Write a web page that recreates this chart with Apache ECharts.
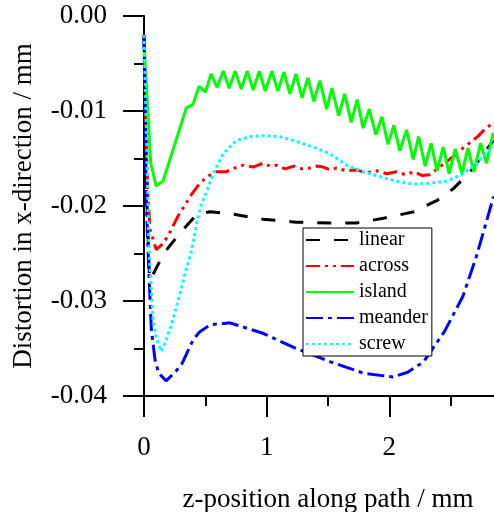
<!DOCTYPE html>
<html><head><meta charset="utf-8">
<script src="https://cdn.jsdelivr.net/npm/echarts@6/dist/echarts.min.js"></script>
<style>html,body{margin:0;padding:0;background:#fff;overflow:hidden;}#c{width:494px;height:512px;overflow:hidden;}</style>
</head><body><div id="c"></div>
<script>
const seriesNames = ['linear', 'across', 'island', 'meander', 'screw'];
const xTicks = [0, 1, 2];
const yTicks = [0, -0.01, -0.02, -0.03, -0.04];

const linearX = [0, 0.01, 0.025, 0.045, 0.07, 0.16, 0.29, 0.43, 0.54, 0.70, 0.97, 1.24, 1.52, 1.73, 1.95, 2.20, 2.39, 2.52, 2.66, 2.79, 2.85];
const linearY = [-0.002, -0.010, -0.020, -0.0278, -0.0273, -0.0250, -0.0229, -0.0209, -0.0206, -0.0208, -0.0214, -0.0217, -0.0218, -0.0218, -0.0213, -0.0206, -0.0194, -0.0182, -0.0164, -0.0141, -0.0131];

const acrossX = [0, 0.01, 0.03, 0.05, 0.1, 0.16, 0.21, 0.28, 0.33, 0.375, 0.456, 0.53, 0.59, 0.67, 0.74, 0.81, 0.89, 0.97, 1.03, 1.08, 1.15, 1.22, 1.29, 1.35, 1.41, 1.46, 1.52, 1.57, 1.65, 1.73, 1.81, 1.90, 1.98, 2.06, 2.13, 2.20, 2.27, 2.33, 2.40, 2.47, 2.54, 2.60, 2.66, 2.72, 2.78, 2.85];
const acrossY = [-0.002, -0.008, -0.0185, -0.0225, -0.0246, -0.0239, -0.0228, -0.0210, -0.0200, -0.0190, -0.0176, -0.0168, -0.0164, -0.0164, -0.0160, -0.0157, -0.0159, -0.0155, -0.0158, -0.0157, -0.0161, -0.0158, -0.0161, -0.0160, -0.0158, -0.0159, -0.0162, -0.0160, -0.0163, -0.0162, -0.0165, -0.0163, -0.0166, -0.0164, -0.0167, -0.0164, -0.0168, -0.0167, -0.0160, -0.0153, -0.0146, -0.0139, -0.0133, -0.0127, -0.0119, -0.0112];

const islandX = [0, 0.005, 0.055, 0.10, 0.155, 0.345, 0.40, 0.45, 0.503, 0.546, 0.597, 0.646, 0.695, 0.744, 0.793, 0.842, 0.891, 0.940, 0.989, 1.043, 1.092, 1.141, 1.190, 1.239, 1.288, 1.337, 1.385, 1.434, 1.489, 1.532, 1.587, 1.636, 1.690, 1.738, 1.787, 1.836, 1.891, 1.940, 1.989, 2.037, 2.086, 2.141, 2.195, 2.239, 2.293, 2.341, 2.390, 2.439, 2.488, 2.537, 2.592, 2.641, 2.689, 2.744, 2.793, 2.847];
const islandY = [-0.0030, -0.0040, -0.0155, -0.0179, -0.0174, -0.0097, -0.0093, -0.0074, -0.0080, -0.0061, -0.0075, -0.0058, -0.0076, -0.0058, -0.0077, -0.0058, -0.0078, -0.0058, -0.0079, -0.0058, -0.0079, -0.0059, -0.0082, -0.0061, -0.0086, -0.0065, -0.0090, -0.0068, -0.0098, -0.0076, -0.0105, -0.0082, -0.0112, -0.0088, -0.0118, -0.0098, -0.0125, -0.0106, -0.0135, -0.0115, -0.0142, -0.0120, -0.0151, -0.0127, -0.0158, -0.0134, -0.0163, -0.0138, -0.0166, -0.0140, -0.0166, -0.0139, -0.0164, -0.0134, -0.0155, -0.0123];

const meanderX = [0, 0.01, 0.02, 0.04, 0.06, 0.09, 0.12, 0.18, 0.26, 0.31, 0.40, 0.45, 0.54, 0.70, 0.97, 1.24, 1.52, 1.79, 2.03, 2.15, 2.28, 2.45, 2.60, 2.71, 2.85];
const meanderY = [-0.002, -0.010, -0.020, -0.027, -0.033, -0.0362, -0.0376, -0.0384, -0.0374, -0.0366, -0.0341, -0.0333, -0.0325, -0.0323, -0.0334, -0.0350, -0.0364, -0.0376, -0.0380, -0.0375, -0.0364, -0.0332, -0.0295, -0.0253, -0.0190];

const screwX = [0, 0.02, 0.04, 0.06, 0.075, 0.10, 0.14, 0.17, 0.22, 0.28, 0.33, 0.39, 0.43, 0.47, 0.49, 0.565, 0.646, 0.755, 0.864, 0.972, 1.108, 1.244, 1.38, 1.516, 1.652, 1.787, 1.923, 2.059, 2.195, 2.331, 2.467, 2.602, 2.711, 2.847];
const screwY = [-0.002, -0.012, -0.024, -0.029, -0.032, -0.0338, -0.0353, -0.0345, -0.0327, -0.0299, -0.0274, -0.0246, -0.0218, -0.0197, -0.0192, -0.0166, -0.0145, -0.0131, -0.0127, -0.0126, -0.0127, -0.0132, -0.0138, -0.0145, -0.0157, -0.0164, -0.0169, -0.0174, -0.0177, -0.0176, -0.0174, -0.0166, -0.0155, -0.0138];

const zip = (xs, ys) => xs.map((x, i) => [x, ys[i]]);
const FONT = "'Liberation Serif', 'Times New Roman', serif";

const styles = [
  {color: '#000000', type: [14, 14]},
  {color: '#ff0000', type: [14, 5, 3, 5, 3, 5]},
  {color: '#00ff00', type: 'solid'},
  {color: '#0000ff', type: [17, 5, 4, 5]},
  {color: '#00ffff', type: [3, 3]}
];
const datas = [zip(linearX, linearY), zip(acrossX, acrossY), zip(islandX, islandY), zip(meanderX, meanderY), zip(screwX, screwY)];

const chart = echarts.init(document.getElementById('c'), null, {renderer: 'canvas', width: 494, height: 512});
chart.setOption({
  animation: false,
  backgroundColor: '#ffffff',
  grid: {left: 144, width: 368, top: 16, height: 380, containLabel: false, outerBoundsMode: 'none'},
  legend: {
    orient: 'vertical', left: 303, top: 228,
    padding: [2, 4, 2, 2], itemGap: 6, itemWidth: 48, itemHeight: 14,
    borderColor: '#000', borderWidth: 1, backgroundColor: '#fff',
    itemStyle: {color: 'rgba(0,0,0,0)', borderWidth: 0, opacity: 0},
    textStyle: {fontFamily: FONT, fontSize: 20, color: '#000'},
    data: seriesNames
  },
  xAxis: {
    type: 'value', min: 0, max: 3, interval: 1,
    name: 'z-position along path / mm', nameLocation: 'middle', nameGap: 90,
    nameTextStyle: {fontFamily: FONT, fontSize: 27, color: '#000'},
    axisLine: {onZero: false, lineStyle: {color: '#000', width: 2}},
    axisTick: {inside: false, length: 21, lineStyle: {color: '#000', width: 2}},
    minorTick: {show: true, splitNumber: 2, length: 10, lineStyle: {color: '#000', width: 2}},
    splitLine: {show: false},
    axisLabel: {fontFamily: FONT, fontSize: 27, color: '#000', margin: 38, showMaxLabel: false,
      formatter: v => xTicks.includes(v) ? String(v) : ''}
  },
  yAxis: {
    type: 'value', min: -0.04, max: 0, interval: 0.01,
    name: 'Distortion in x-direction / mm', nameLocation: 'middle', nameGap: 107, nameRotate: 90,
    nameTextStyle: {fontFamily: FONT, fontSize: 27, color: '#000'},
    axisLine: {onZero: false, lineStyle: {color: '#000', width: 2}},
    axisTick: {inside: false, length: 21, lineStyle: {color: '#000', width: 2}},
    minorTick: {show: true, splitNumber: 2, length: 10, lineStyle: {color: '#000', width: 2}},
    splitLine: {show: false},
    axisLabel: {fontFamily: FONT, fontSize: 27, color: '#000', margin: 37,
      formatter: v => { const t = yTicks.find(k => Math.abs(k - v) < 1e-9); return t === undefined ? '' : t.toFixed(2); }}
  },
  series: seriesNames.map((n, i) => ({
    name: n, type: 'line', data: datas[i], showSymbol: false, symbol: 'none',
    lineStyle: {color: styles[i].color, width: 3, type: styles[i].type},
    itemStyle: {color: styles[i].color},
    clip: true
  }))
});
</script>
</body></html>
